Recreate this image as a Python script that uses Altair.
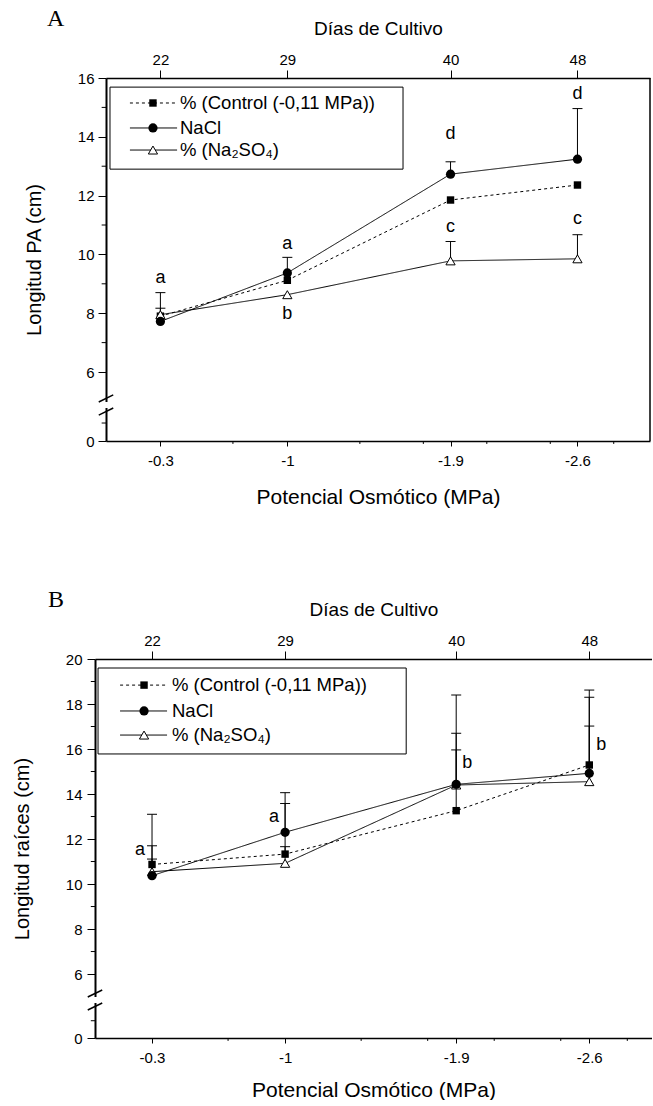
import altair as alt
import pandas as pd

# ---------------- data ----------------
pot = [-0.3, -1.0, -1.9, -2.6]
pot_text = ["-0.3", "-1", "-1.9", "-2.6"]
dias = [22, 29, 40, 48]
series = ["control", "nacl", "na2so4"]
series_text = ["% (Control (-0,11 MPa))", "NaCl", "% (Na\u2082SO\u2084)"]

# Panel A: Longitud PA (cm)
a_control = [7.90, 9.12, 11.85, 12.36]
a_nacl = [7.72, 9.37, 12.73, 13.24]
a_na2so4 = [7.95, 8.63, 9.78, 9.85]
a_control_sd = [0.0, 0.0, 0.0, 0.0]
a_nacl_sd = [0.98, 0.53, 0.42, 1.72]
a_na2so4_sd = [0.22, 0.0, 0.66, 0.82]
a_letter_text = ["a", "a", "b", "d", "c", "d", "c"]
a_letter_pot = [-0.3, -1.0, -1.0, -1.9, -1.9, -2.6, -2.6]
a_letter_y = [9.19, 10.37, 7.97, 14.10, 10.92, 15.46, 11.22]

# Panel B: Longitud raices (cm)
b_control = [10.87, 11.33, 13.26, 15.29]
b_nacl = [10.37, 12.30, 14.43, 14.92]
b_na2so4 = [10.55, 10.92, 14.40, 14.55]
b_control_sd = [0.24, 0.33, 2.70, 3.01]
b_nacl_sd = [2.73, 1.76, 3.97, 3.70]
b_na2so4_sd = [1.15, 2.66, 2.30, 2.47]
b_letter_text = ["a", "a", "b", "b"]
b_letter_pot = [-0.3, -1.0, -1.9, -2.6]
b_letter_y = [11.53, 12.99, 15.36, 16.18]

a_y_ticks = [0, 6, 8, 10, 12, 14, 16]
a_y_minor = [0.61, 7, 9, 11, 13, 15]
b_y_ticks = [0, 6, 8, 10, 12, 14, 16, 18, 20]
b_y_minor = [0.77, 7, 9, 11, 13, 15, 17, 19]
x_minor = [-0.70, -1.40, -1.75, -2.10, -2.45, -2.80]

# ---------------- style ----------------
a_letter_dx = [0, 0, 0, 0, 0, 0, 0]
b_letter_dx = [-12, -11, 11, 12]
FONT = "Liberation Sans, Arial, Helvetica, sans-serif"
SERIF = "Liberation Serif, Times New Roman, serif"
DASH = [[3, 3], [1, 0], [1, 0]]


def expr_map(keys, labels):
    e = "''"
    for k, l in zip(reversed(keys), reversed(labels)):
        e = f"abs(datum.value - ({k})) < 0.001 ? '{l}' : {e}"
    return e


def long_df(vals_list, sd_list):
    rows = []
    for s, vals, sds in zip(series, vals_list, sd_list):
        for p, v, sd in zip(pot, vals, sds):
            rows.append({"serie": s, "pot": p, "val": v, "hi": v + sd, "sd": sd})
    return pd.DataFrame(rows)


def points(chart, xf, yf):
    sq = chart.transform_filter("datum.serie == 'control'").mark_point(
        shape="square", filled=True, color="black", size=55, opacity=1
    ).encode(x=xf, y=yf)
    tr = chart.transform_filter("datum.serie == 'na2so4'").mark_point(
        shape="triangle-up", filled=True, fill="white", stroke="black",
        strokeWidth=1, size=85, opacity=1
    ).encode(x=xf, y=yf)
    ci = chart.transform_filter("datum.serie == 'nacl'").mark_point(
        shape="circle", filled=True, color="black", size=85, opacity=1
    ).encode(x=xf, y=yf)
    return [sq, tr, ci]


def panel(c):
    xs = alt.Scale(domain=c["x_domain"], range=c["x_range"], nice=False, zero=False)
    ys = alt.Scale(domain=c["y_domain"], range=c["y_range"], nice=False, zero=False)

    bottom_axis = alt.Axis(
        orient="bottom", values=pot, labelExpr=expr_map(pot, pot_text),
        title="Potencial Osmótico (MPa)", grid=False,
        tickSize=5, tickWidth=1, tickColor="black",
        domainColor="black", domainWidth=1.5,
        labelFont=FONT, labelFontSize=15, labelColor="black", labelPadding=7,
        titleFont=FONT, titleFontSize=21, titleFontWeight="normal",
        titleColor="black", titlePadding=c["bottom_title_pad"],
    )
    top_axis = alt.Axis(
        orient="top", values=pot, labelExpr=expr_map(pot, [str(d) for d in dias]),
        title="Días de Cultivo", grid=False,
        tickSize=8, tickWidth=1, tickColor="black",
        domainColor="black", domainWidth=1.5,
        labelFont=FONT, labelFontSize=15, labelColor="black", labelPadding=3,
        titleFont=FONT, titleFontSize=19, titleFontWeight="normal",
        titleColor="black", titlePadding=14,
    )
    left_axis = alt.Axis(
        orient="left", values=c["y_ticks"], format="d", title=c["ytitle"], grid=False,
        offset=c["left_offset"],
        tickSize=8, tickWidth=1, tickColor="black",
        domainColor="black", domainWidth=2,
        labelFont=FONT, labelFontSize=15, labelColor="black", labelPadding=c["label_pad"],
        titleFont=FONT, titleFontSize=20, titleFontWeight="normal",
        titleColor="black", titlePadding=33,
    )

    def X(f):
        return alt.X(f"{f}:Q", scale=xs, axis=bottom_axis)

    def Y(f):
        return alt.Y(f"{f}:Q", scale=ys, axis=left_axis)

    dash = alt.StrokeDash("serie:N", scale=alt.Scale(domain=series, range=DASH), legend=None)

    df = long_df(c["vals"], c["sds"])
    base = alt.Chart(df)

    lines = base.mark_line(color="black", strokeWidth=1).encode(
        x=X("pot"), y=Y("val"), detail="serie:N", strokeDash=dash,
    )
    errs = base.transform_filter("datum.sd > 0")
    err_rule = errs.mark_rule(color="black", strokeWidth=1).encode(
        x=X("pot"), y=Y("val"), y2="hi:Q"
    )
    err_cap = errs.mark_tick(
        color="black", orient="horizontal", size=10, thickness=1, opacity=1
    ).encode(x=X("pot"), y=Y("hi"))

    layers = [lines, err_rule, err_cap] + points(base, X("pot"), Y("val"))

    # significance letters
    for p, yv, t, dx in zip(c["l_pot"], c["l_y"], c["l_text"], c["l_dx"]):
        layers.append(
            alt.Chart(pd.DataFrame({"pot": [p], "y": [yv], "t": [t]}))
            .mark_text(font=FONT, fontSize=18, color="black", baseline="middle",
                       align="center", dx=dx)
            .encode(x=X("pot"), y=Y("y"), text="t:N")
        )

    # legend box
    lg = c["legend"]
    layers.append(
        alt.Chart(pd.DataFrame({"x0": [lg["box_x"][0]], "x1": [lg["box_x"][1]],
                                "y0": [lg["box_y"][0]], "y1": [lg["box_y"][1]]}))
        .mark_rect(fillOpacity=0, stroke="black", strokeWidth=1)
        .encode(x=X("x0"), x2="x1:Q", y=Y("y0"), y2="y1:Q")
    )
    ldf = pd.DataFrame({
        "serie": series, "t": series_text, "ly": lg["rows"],
        "s0": [lg["seg"][0]] * 3, "s1": [lg["seg"][1]] * 3,
        "mx": [lg["mx"]] * 3, "tx": [lg["tx"]] * 3,
    })
    lbase = alt.Chart(ldf)
    layers.append(
        lbase.mark_rule(color="black", strokeWidth=1).encode(
            x=X("s0"), x2="s1:Q", y=Y("ly"), strokeDash=dash
        )
    )
    layers += points(lbase, X("mx"), Y("ly"))
    layers.append(
        lbase.mark_text(font=FONT, fontSize=18.5, color="black", align="left",
                        baseline="middle").encode(x=X("tx"), y=Y("ly"), text="t:N")
    )

    # minor ticks
    layers.append(
        alt.Chart(pd.DataFrame({"y": c["y_minor"], "x0": 0.0, "x1": c["ymin_len"]}))
        .mark_rule(color="black", strokeWidth=1)
        .encode(x=X("x0"), x2="x1:Q", y=Y("y"))
    )
    layers.append(
        alt.Chart(pd.DataFrame({"x": x_minor, "y0": 0.0, "y1": -c["xmin_len"]}))
        .mark_rule(color="black", strokeWidth=1)
        .encode(x=X("x"), y=Y("y0"), y2="y1:Q")
    )

    # right frame
    if c["right_frame"]:
        layers.append(
            alt.Chart(pd.DataFrame({"x": [c["x_domain"][1]], "y0": [0.0],
                                    "y1": [c["y_domain"][-1]]}))
            .mark_rule(color="black", strokeWidth=1.5)
            .encode(x=X("x"), y=Y("y0"), y2="y1:Q")
        )

    # axis break
    L, U = c["y_domain"][1], c["y_domain"][2]
    layers.append(
        alt.Chart(pd.DataFrame({"x": [0.0], "y0": [L], "y1": [U]}))
        .mark_rule(color="white", strokeWidth=6)
        .encode(x=X("x"), y=Y("y0"), y2="y1:Q")
    )
    sx, d = c["slash_dx"], c["slash_dy"]
    layers.append(
        alt.Chart(pd.DataFrame({"x0": [sx, sx], "x1": [-sx, -sx],
                                "y0": [L - d, U], "y1": [L, U + d]}))
        .mark_rule(color="black", strokeWidth=1.5)
        .encode(x=X("x0"), x2="x1:Q", y=Y("y0"), y2="y1:Q")
    )

    inner = alt.layer(*layers)
    top = alt.Chart(pd.DataFrame({"pot": pot})).mark_point(opacity=0).encode(
        x=alt.X("pot:Q", scale=xs, axis=top_axis)
    )
    return alt.layer(inner, top).resolve_axis(x="independent").properties(
        width=c["width"], height=c["height"],
        title=alt.TitleParams(c["letter"], anchor="start", frame="group", font=SERIF,
                              fontSize=24, fontWeight="normal", color="black",
                              dx=c["title_dx"], dy=c["title_dy"]),
    )


cfg_a = dict(
    letter="A", title_dx=-48, title_dy=16,
    vals=[a_control, a_nacl, a_na2so4], sds=[a_control_sd, a_nacl_sd, a_na2so4_sd],
    l_pot=a_letter_pot, l_y=a_letter_y, l_text=a_letter_text, l_dx=a_letter_dx,
    x_domain=[0.0, -3.0], x_range=[11, 555], width=555, height=363,
    y_domain=[0, 1.12, 4.98, 16], y_range=[363, 330, 324, 0],
    y_ticks=a_y_ticks, y_minor=a_y_minor, ytitle="Longitud PA (cm)",
    left_offset=-11, label_pad=4, bottom_title_pad=18,
    ymin_len=0.024, xmin_len=0.10, right_frame=True,
    slash_dx=0.04, slash_dy=0.24,
    legend=dict(box_x=[-0.022, -1.638], box_y=[15.69, 12.90],
                rows=[15.15, 14.30, 13.55], seg=[-0.132, -0.392], mx=-0.259, tx=-0.408),
)
cfg_b = dict(
    letter="B", title_dx=-47, title_dy=16,
    vals=[b_control, b_nacl, b_na2so4], sds=[b_control_sd, b_nacl_sd, b_na2so4_sd],
    l_pot=b_letter_pot, l_y=b_letter_y, l_text=b_letter_text, l_dx=b_letter_dx,
    x_domain=[0.0, -2.93], x_range=[0, 557], width=557, height=379,
    y_domain=[0, 1.56, 4.98, 20], y_range=[379, 344, 338, 0],
    y_ticks=b_y_ticks, y_minor=b_y_minor, ytitle="Longitud raíces (cm)",
    left_offset=0, label_pad=5, bottom_title_pad=14,
    ymin_len=0.022, xmin_len=0.13, right_frame=False,
    slash_dx=0.038, slash_dy=0.31,
    legend=dict(box_x=[-0.016, -1.637], box_y=[19.6, 15.78],
                rows=[18.84, 17.69, 16.62], seg=[-0.132, -0.379], mx=-0.258, tx=-0.405),
)

chart = alt.vconcat(panel(cfg_a), panel(cfg_b), spacing=81).properties(
    padding={"left": 12, "top": 7, "right": 0, "bottom": 0}
).configure_view(strokeWidth=0)

chart.save("out.html", embed_options={"renderer": "svg", "actions": False})
